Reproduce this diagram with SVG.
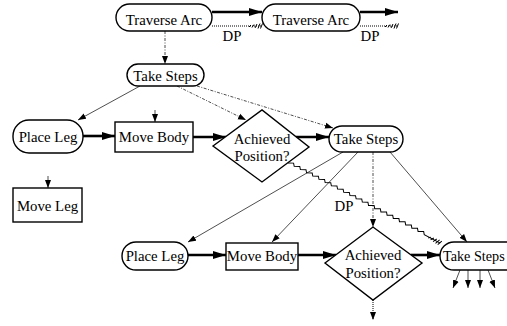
<svg xmlns="http://www.w3.org/2000/svg" width="507" height="326" viewBox="0 0 507 326">
<style>
text{font-family:"Liberation Serif","Times New Roman",serif;font-size:14.8px;fill:#000;text-anchor:middle}
.n{fill:#fff;stroke:#000;stroke-width:1.4}
.thick{stroke:#000;stroke-width:2.6;fill:none}
.thin{stroke:#222;stroke-width:0.8;fill:none}
.dd{stroke:#222;stroke-width:0.8;fill:none;stroke-dasharray:3 1.5 1 1.5}
.dot{stroke:#000;stroke-width:1;fill:none;stroke-dasharray:1 1}
</style>
<defs>
<marker id="a" markerUnits="userSpaceOnUse" markerWidth="9" markerHeight="7" refX="8" refY="3.5" orient="auto"><path d="M0,0.5 L8,3.5 L0,6.5 z" fill="#000"/></marker>
<marker id="A" markerUnits="userSpaceOnUse" markerWidth="14" markerHeight="9" refX="13" refY="4.5" orient="auto"><path d="M0,0.5 L13,4.5 L0,8.5 z" fill="#000"/></marker>
<marker id="h" markerUnits="userSpaceOnUse" markerWidth="18" markerHeight="10" refX="16" refY="5" orient="auto"><path d="M3,6 L5,4 M6,6.5 L8,3.5 M9,7 L11,3 M12,7.5 L14,2.5 M14.5,7.5 L16.5,2.5" stroke="#000" stroke-width="1" fill="none"/></marker>
</defs>

<g id="connectors">
  <line class="thick" x1="212" y1="12" x2="262" y2="12" marker-end="url(#A)"/>
  <line class="dot" x1="212" y1="26" x2="262" y2="26" marker-end="url(#h)"/>
  <line class="thick" x1="360" y1="12" x2="398" y2="12" marker-end="url(#A)"/>
  <line class="dot" x1="360" y1="26" x2="398" y2="26" marker-end="url(#h)"/>
  <line class="dd" x1="165" y1="31" x2="165" y2="64" marker-end="url(#a)"/>
  <line class="thin" x1="140" y1="86" x2="78" y2="120" marker-end="url(#a)"/>
  <line class="dd" x1="177" y1="86" x2="246" y2="120" marker-end="url(#a)"/>
  <line class="dd" x1="197" y1="86" x2="333" y2="128" marker-end="url(#a)"/>
  <line class="thin" x1="155" y1="110" x2="155" y2="122" marker-end="url(#a)"/>
  <line class="thin" x1="48" y1="176" x2="48" y2="188" marker-end="url(#a)"/>
  <line class="thick" x1="83" y1="136" x2="115" y2="136" marker-end="url(#A)"/>
  <line class="thick" x1="193" y1="137" x2="226" y2="137" marker-end="url(#A)"/>
  <line class="thick" x1="296" y1="137" x2="329" y2="137" marker-end="url(#A)"/>
  <line class="thin" x1="343" y1="152" x2="188" y2="242" marker-end="url(#a)"/>
  <line class="thin" x1="358" y1="152" x2="272" y2="242" marker-end="url(#a)"/>
  <line class="dd" x1="373" y1="152" x2="373" y2="227" marker-end="url(#a)"/>
  <line class="thin" x1="390" y1="152" x2="467" y2="242" marker-end="url(#a)"/>
  <g transform="translate(288,163) rotate(27.76)">
    <path style="stroke:#000;stroke-width:1;fill:none" d="M0,0 l5,-2.5 l2,2.5 l5,-2.5 l2,2.5 l5,-2.5 l2,2.5 l5,-2.5 l2,2.5 l5,-2.5 l2,2.5 l5,-2.5 l2,2.5 l5,-2.5 l2,2.5 l5,-2.5 l2,2.5 l5,-2.5 l2,2.5 l5,-2.5 l2,2.5 l5,-2.5 l2,2.5 l5,-2.5 l2,2.5 l5,-2.5 l2,2.5 l5,-2.5 l2,2.5 l5,-2.5 l2,2.5 l5,-2.5 l2,2.5 l5,-2.5 l2,2.5 l5,-2.5 l2,2.5 l5,-2.5 l2,2.5 l5,-2.5 l2,2.5 l5,-2.5 l2,2.5 l5,-2.5 l2,2.5 L172,0" marker-end="url(#h)"/>
  </g>
  <line class="thick" x1="188" y1="255" x2="226" y2="255" marker-end="url(#A)"/>
  <line class="thick" x1="298" y1="255" x2="336" y2="255" marker-end="url(#A)"/>
  <line class="thick" x1="411" y1="255" x2="440" y2="255" marker-end="url(#A)"/>
  <line class="dot" x1="373" y1="300" x2="373" y2="320" marker-end="url(#a)"/>
  <line class="thin" x1="460" y1="270" x2="453" y2="288" marker-end="url(#a)"/>
  <line class="thin" x1="468" y1="270" x2="468" y2="288" marker-end="url(#a)"/>
  <line class="thin" x1="480" y1="270" x2="480" y2="288" marker-end="url(#a)"/>
  <line class="thin" x1="488" y1="270" x2="495" y2="288" marker-end="url(#a)"/>
  <text x="232" y="41">DP</text>
  <text x="370" y="41">DP</text>
  <text x="344" y="211">DP</text>
</g>

<g id="traverse-arc-1"><rect class="n" x="116" y="4" width="96" height="27" rx="13.5"/><text x="164" y="24.5">Traverse Arc</text></g>
<g id="traverse-arc-2"><rect class="n" x="262" y="4" width="98" height="27" rx="13.5"/><text x="311" y="24.5">Traverse Arc</text></g>
<g id="take-steps-1"><rect class="n" x="127" y="64" width="77" height="22" rx="11"/><text x="165.5" y="80.5">Take Steps</text></g>
<g id="place-leg-1"><rect class="n" x="13" y="120" width="70" height="33" rx="16"/><text x="48" y="142">Place Leg</text></g>
<g id="move-body-1"><rect class="n" x="115" y="122" width="78" height="30"/><text x="154" y="142">Move Body</text></g>
<g id="move-leg"><rect class="n" x="13" y="188" width="69" height="34"/><text x="47.5" y="210.5">Move Leg</text></g>
<g id="achieved-1"><polygon class="n" points="213,146 262,110 309,147 262,182"/><text x="262" y="144">Achieved</text><text x="262" y="161">Position?</text></g>
<g id="take-steps-2"><rect class="n" x="329" y="126" width="74" height="26" rx="13"/><text x="366" y="143.5">Take Steps</text></g>
<g id="place-leg-2"><rect class="n" x="122" y="242" width="66" height="28" rx="14"/><text x="155" y="260.5">Place Leg</text></g>
<g id="move-body-2"><rect class="n" x="226" y="243" width="72" height="27"/><text x="262" y="260.5">Move Body</text></g>
<g id="achieved-2"><polygon class="n" points="325,263 373,227 422,263 373,300"/><text x="373" y="260">Achieved</text><text x="373" y="278">Position?</text></g>
<g id="take-steps-3"><rect class="n" x="440" y="242" width="80" height="28" rx="14"/><text x="443" y="260.5" style="text-anchor:start;font-size:14.2px">Take Steps</text></g>
</svg>
